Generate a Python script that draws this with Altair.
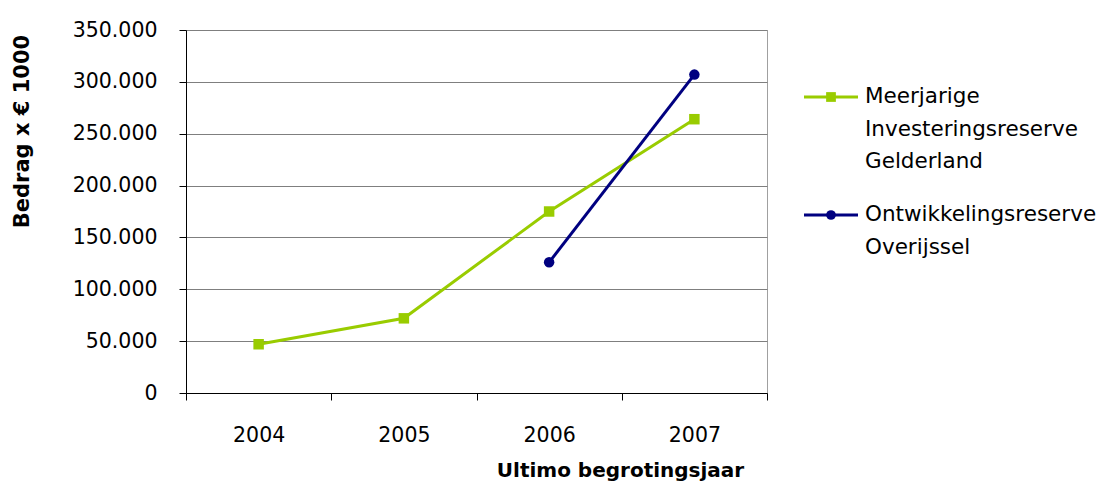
import altair as alt
import pandas as pd

years = ["2004", "2005", "2006", "2007"]
series_names = ["Meerjarige Investeringsreserve Gelderland", "Ontwikkelingsreserve Overijssel"]
gelderland_years = ["2004", "2005", "2006", "2007"]
gelderland_values = [47000, 72000, 175000, 264000]
overijssel_years = ["2006", "2007"]
overijssel_values = [126000, 307000]
y_ticks = [0, 50000, 100000, 150000, 200000, 250000, 300000, 350000]

colors = ["#99CC00", "#000080"]
shapes = ["square", "circle"]

rows = []
for y, v in zip(gelderland_years, gelderland_values):
    rows.append({"jaar": y, "bedrag": v, "reeks": series_names[0]})
for y, v in zip(overijssel_years, overijssel_values):
    rows.append({"jaar": y, "bedrag": v, "reeks": series_names[1]})
df = pd.DataFrame(rows)
legend_df = pd.DataFrame({"reeks": series_names})

FONT = "DejaVu Sans"

x_enc = alt.X(
    "jaar:N",
    sort=years,
    bandPosition=0.5,
    scale=alt.Scale(type="band", domain=years, paddingInner=0, paddingOuter=0),
    axis=alt.Axis(
        title="Ultimo begrotingsjaar",
        titleFont=FONT,
        titleFontSize=20,
        titleFontWeight="bold",
        titleX=434,
        titleY=77,
        titleAlign="center",
        titleBaseline="middle",
        labelFont=FONT,
        labelFontSize=20.5,
        labelColor="#000000",
        labelPadding=25,
        labelAngle=0,
        tickBand="extent",
        tickSize=7,
        tickColor="#000000",
        domainColor="#000000",
        grid=False,
    ),
)

y_enc = alt.Y(
    "bedrag:Q",
    scale=alt.Scale(domain=[0, 350000], nice=False),
    axis=alt.Axis(
        title="Bedrag x € 1000",
        titleFont=FONT,
        titleFontSize=21,
        titleFontWeight="bold",
        titleX=-164,
        titleY=101,
        titleAngle=270,
        titleAlign="center",
        titleBaseline="middle",
        values=y_ticks,
        labelExpr="datum.value == 0 ? '0' : format(datum.value / 1000, 'd') + '.000'",
        labelFont=FONT,
        labelFontSize=20.5,
        labelColor="#000000",
        labelPadding=22,
        tickSize=7,
        tickColor="#000000",
        domainColor="#000000",
        grid=True,
        gridColor="#7F7F7F",
        gridWidth=1,
    ),
)

color_scale = alt.Scale(domain=series_names, range=colors)
shape_scale = alt.Scale(domain=series_names, range=shapes)

lines = alt.Chart(df).mark_line(strokeWidth=3).encode(
    x=x_enc, y=y_enc, color=alt.Color("reeks:N", scale=color_scale, legend=None), detail="reeks:N"
)

points = alt.Chart(df).mark_point(filled=True, opacity=1, size=110).encode(
    x=x_enc,
    y=y_enc,
    color=alt.Color("reeks:N", scale=color_scale, legend=None),
    shape=alt.Shape("reeks:N", scale=shape_scale, legend=None),
)

# legend drawn as marks positioned through a point scale
leg_y = alt.Y(
    "reeks:N",
    scale=alt.Scale(type="point", domain=series_names, range=[67, 185], padding=0),
    axis=None,
)

leg_rule = alt.Chart(legend_df).mark_rule(strokeWidth=3).encode(
    x=alt.value(618), x2=alt.value(672), y=leg_y,
    color=alt.Color("reeks:N", scale=color_scale, legend=None),
)
leg_point = alt.Chart(legend_df).mark_point(filled=True, opacity=1, size=95).encode(
    x=alt.value(645), y=leg_y,
    color=alt.Color("reeks:N", scale=color_scale, legend=None),
    shape=alt.Shape("reeks:N", scale=shape_scale, legend=None),
)
leg_text = alt.Chart(legend_df).mark_text(
    align="left", baseline="top", dy=-11, lineBreak=" ", lineHeight=32.5,
    font=FONT, fontSize=21.5, color="#000000",
).encode(x=alt.value(679), y=leg_y, text="reeks:N")

legend_layer = alt.layer(leg_rule, leg_point, leg_text)

chart = (
    alt.layer(alt.layer(lines, points), legend_layer)
    .resolve_scale(y="independent")
    .properties(
        width=581,
        height=363,
        autosize=alt.AutoSizeParams(type="none"),
        padding={"left": 178, "top": 22, "right": 330, "bottom": 91},
        background="#FFFFFF",
    )
    .configure_view(stroke="#A0A0A0", strokeWidth=1)
)

chart.save("out.html", embed_options={"renderer": "svg", "actions": False})
